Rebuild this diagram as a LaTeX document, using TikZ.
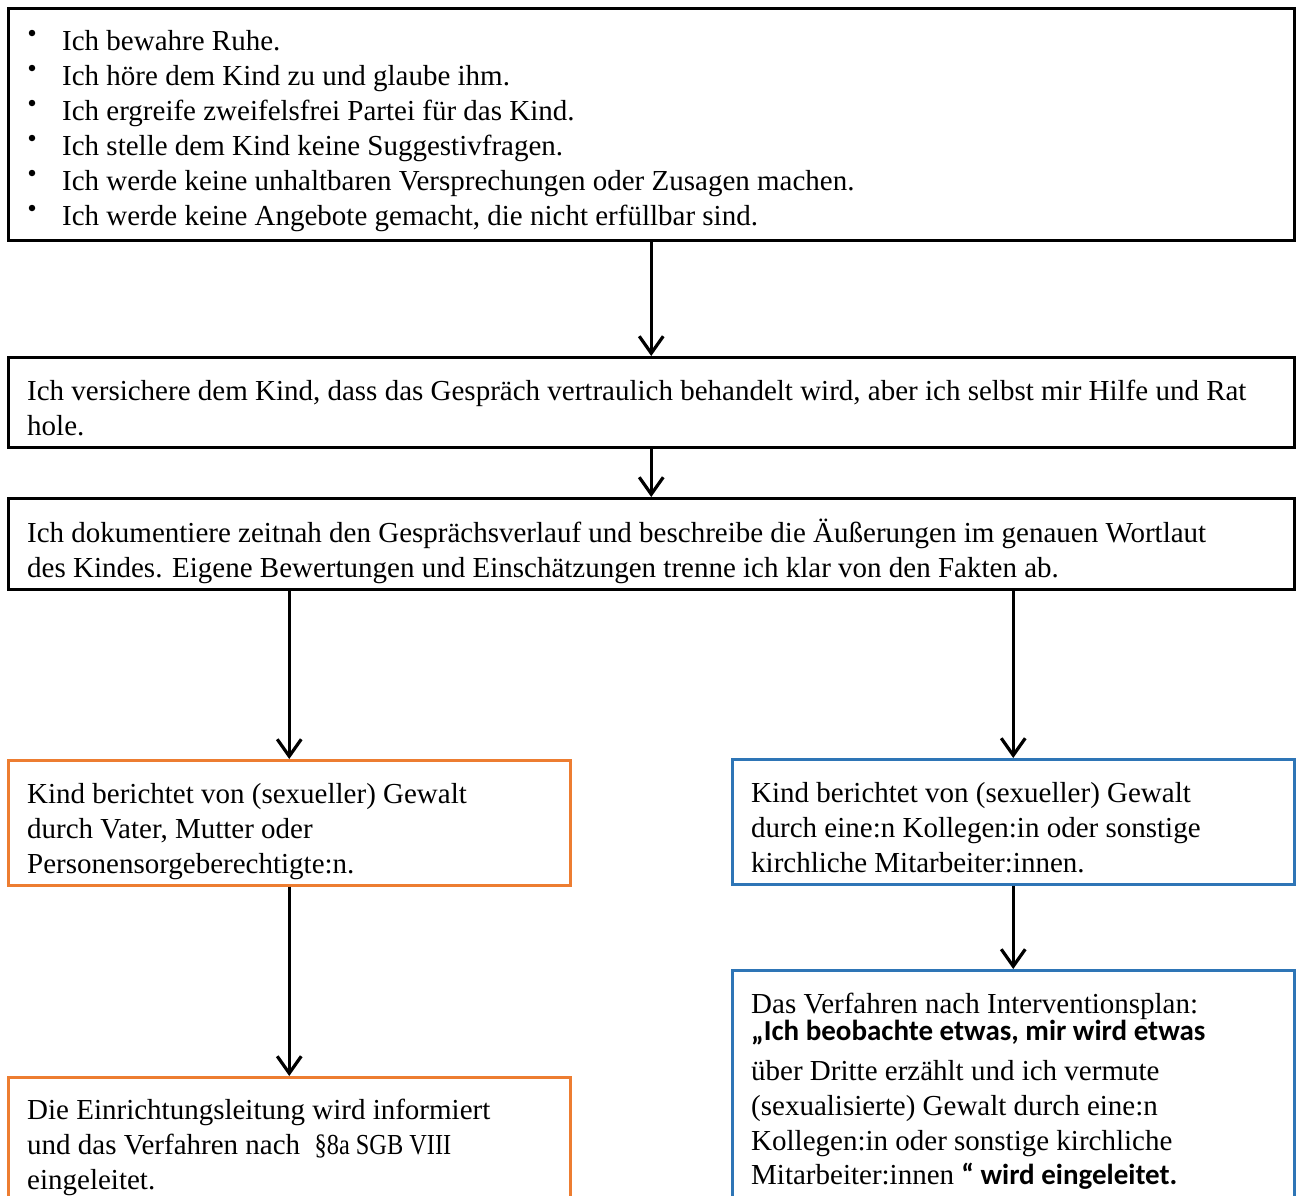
\documentclass[tikz,border=0pt]{standalone}
\usepackage{fontspec}
\setmainfont{Liberation Serif}
\newfontfamily\calbold[BoldFont={Carlito Bold}]{Carlito}
\usetikzlibrary{arrows.meta}
\definecolor{orangeb}{HTML}{ED7D31}
\definecolor{blueb}{HTML}{2E75B6}
\newcommand{\fs}{\fontsize{29}{35}\selectfont}
\tikzset{
  box/.style={draw, line width=2.5pt, rectangle, inner sep=0pt, anchor=north west},
  txt/.style={anchor=base west, inner sep=0pt, font=\fs},
  arr/.style={line width=3.2pt, -{Straight Barb[length=17pt,width=24pt,line width=3.2pt]}},
  bul/.style={circle, fill=black, inner sep=0pt, minimum size=6.5pt}
}
\newcommand{\cb}[1]{{\calbold\bfseries\fontsize{29}{35}\selectfont #1}}
\begin{document}
\begin{tikzpicture}[x=1pt,y=-1pt]
\useasboundingbox (0,0) rectangle (1296,1195);
% boxes
\node[box, minimum width=1286pt, minimum height=232pt] (b1) at (7,7) {};
\node[box, minimum width=1286pt, minimum height=90pt] (b2) at (7,356) {};
\node[box, minimum width=1286pt, minimum height=91pt] (b3) at (7,497) {};
\node[box, draw=orangeb, minimum width=562pt, minimum height=125pt] (b4) at (7,759) {};
\node[box, draw=blueb, minimum width=562pt, minimum height=125pt] (b5) at (731,758) {};
\node[box, draw=orangeb, minimum width=562pt, minimum height=140pt] (b6) at (7,1076) {};
\node[box, draw=blueb, minimum width=562pt, minimum height=250pt] (b7) at (731,969) {};
% bullets
\foreach \i/\y in {1/33,2/68,3/103,4/138,5/173,6/208}{
  \node[bul] (bu\i) at (32,\y) {};
}
% texts
\node[txt] (t1) at (62,50) {\parbox[t]{1220pt}{\fs
Ich bewahre Ruhe.\\
Ich höre dem Kind zu und glaube ihm.\\
Ich ergreife zweifelsfrei Partei für das Kind.\\
Ich stelle dem Kind keine Suggestivfragen.\\
Ich werde keine unhaltbaren Versprechungen oder Zusagen machen.\\
Ich werde keine Angebote gemacht, die nicht erfüllbar sind.}};
\node[txt] (t2) at (27,400) {\parbox[t]{1250pt}{\fs
Ich versichere dem Kind, dass das Gespräch vertraulich behandelt wird, aber ich selbst mir Hilfe und Rat\\
hole.}};
\node[txt] (t3) at (27,542) {\parbox[t]{1250pt}{\fs
Ich dokumentiere zeitnah den Gesprächsverlauf und beschreibe die Äußerungen im genauen Wortlaut\\
des Kindes. Eigene Bewertungen und Einschätzungen trenne ich klar von den Fakten ab.}};
\node[txt] (t4) at (27,803) {\parbox[t]{530pt}{\fs
Kind berichtet von (sexueller) Gewalt\\
durch Vater, Mutter oder\\
Personensorgeberechtigte:n.}};
\node[txt] (t5) at (751,802) {\parbox[t]{530pt}{\fs
Kind berichtet von (sexueller) Gewalt\\
durch eine:n Kollegen:in oder sonstige\\
kirchliche Mitarbeiter:innen.}};
\node[txt] (t6) at (27,1119) {\parbox[t]{530pt}{\fs
Die Einrichtungsleitung wird informiert\\
und das Verfahren nach \ \scalebox{0.84}[1]{§8a SGB VIII}\\
eingeleitet.}};
\node[txt] (t7) at (751,1013) {\parbox[t]{530pt}{\fs
Das Verfahren nach Interventionsplan:\\[-8pt]
\cb{„Ich beobachte etwas, mir wird etwas}\\[5pt]
über Dritte erzählt und ich vermute\\
(sexualisierte) Gewalt durch eine:n\\
Kollegen:in oder sonstige kirchliche\\[-1pt]
Mitarbeiter:innen \cb{“ wird eingeleitet.}}};
% arrows
\draw[arr] (b1.south) -- (b2.north);
\draw[arr] (b2.south) -- (b3.north);
\draw[arr] (b3.south -| b4.north) -- (b4.north);
\draw[arr] (b3.south -| b5.north) -- (b5.north);
\draw[arr] (b4.south) -- (b6.north);
\draw[arr] (b5.south) -- (b7.north);
\end{tikzpicture}
\end{document}
